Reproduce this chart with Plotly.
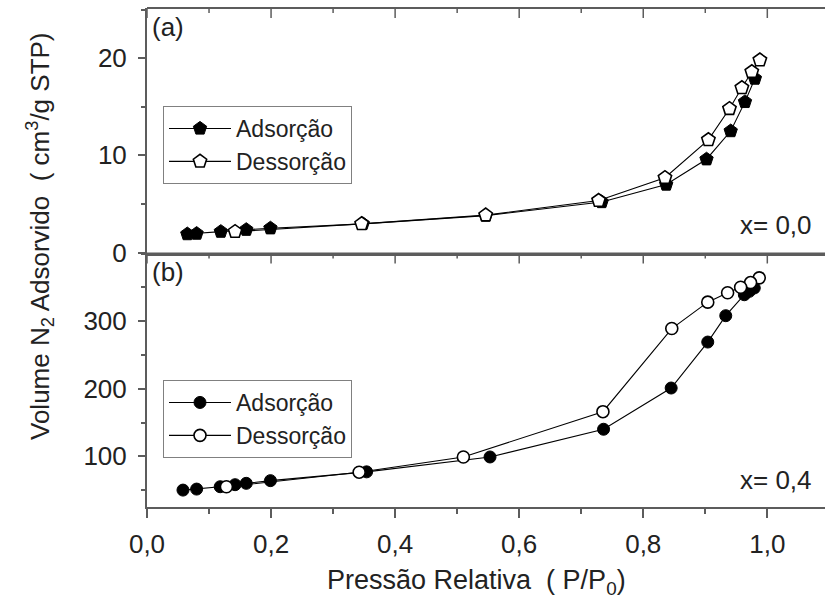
import plotly.graph_objects as go

# ---------------- data ----------------
# Panel (a): x = 0,0
ads_x_a = [0.065, 0.080, 0.119, 0.160, 0.199, 0.348, 0.546, 0.733, 0.837, 0.902, 0.941, 0.964, 0.980]
ads_y_a = [1.90, 1.95, 2.15, 2.35, 2.50, 2.95, 3.80, 5.20, 7.00, 9.60, 12.5, 15.5, 17.9]
des_x_a = [0.988, 0.975, 0.959, 0.939, 0.905, 0.835, 0.728, 0.546, 0.346, 0.142]
des_y_a = [19.8, 18.6, 16.95, 14.8, 11.6, 7.7, 5.35, 3.85, 2.95, 2.15]

# Panel (b): x = 0,4
ads_x_b = [0.058, 0.080, 0.118, 0.142, 0.160, 0.199, 0.354, 0.553, 0.736, 0.845, 0.904, 0.933, 0.963, 0.971, 0.979]
ads_y_b = [50, 51.5, 55, 58, 60, 64, 77, 99, 140, 201, 269, 308, 339, 344, 349]
des_x_b = [0.987, 0.973, 0.957, 0.936, 0.904, 0.846, 0.735, 0.510, 0.342, 0.128]
des_y_b = [364, 357, 350, 342, 328, 289, 166, 99, 76.5, 55]

series_names = ["Adsorção", "Dessorção"]
x_tickvals = [0.0, 0.2, 0.4, 0.6, 0.8, 1.0]
x_minor_tickvals = [0.1, 0.3, 0.5, 0.7, 0.9]
ya_tickvals = [0, 10, 20]
yb_tickvals = [100, 200, 300]
panel_labels = ["(a)", "(b)"]
composition_labels = ["x= 0,0", "x= 0,4"]

# ---------------- style ----------------
FONT = "Liberation Sans, Arial, sans-serif"
AX = "#5c5c5c"
W, H = 825, 607
L, R, T, B = 147, 0, 8, 100
plot_h = H - T - B
split = (H - B - 253.5) / plot_h

def py(pix):
    return (H - B - pix) / plot_h

def px(pix):
    return (pix - L) / (W - L - R)

fig = go.Figure()

def add_pair(xa, ya, xd, yd, symbol, size, xref, yref, legend):
    fig.add_trace(go.Scatter(
        x=xa, y=ya, mode="lines+markers", name=series_names[0],
        line=dict(color="black", width=1.1),
        marker=dict(symbol=symbol, size=size, color="black", line=dict(color="black", width=1)),
        xaxis=xref, yaxis=yref, legend=legend))
    fig.add_trace(go.Scatter(
        x=xd, y=yd, mode="lines+markers", name=series_names[1],
        line=dict(color="black", width=1.1),
        marker=dict(symbol=symbol, size=size, color="white", line=dict(color="black", width=1.6)),
        xaxis=xref, yaxis=yref, legend=legend))

add_pair(ads_x_a, ads_y_a, des_x_a, des_y_a, "pentagon", 14, "x2", "y2", "legend")
add_pair(ads_x_b, ads_y_b, des_x_b, des_y_b, "circle", 12, "x", "y", "legend2")

xrange = [0, 1.093]
tickfont = dict(family=FONT, size=26, color="#222")
common_line = dict(showline=True, linecolor=AX, linewidth=2, showgrid=False, zeroline=False)

fig.update_layout(
    width=W, height=H,
    margin=dict(l=L, r=R, t=T, b=B),
    paper_bgcolor="white", plot_bgcolor="rgba(0,0,0,0)",
    separators=",.",
    font=dict(family=FONT, size=24, color="#222"),
    xaxis=dict(anchor="y", range=xrange, domain=[0, 1], **common_line,
               ticks="outside", ticklen=9, tickwidth=1.5, tickcolor=AX,
               tickvals=x_tickvals, tickformat=".1f", tickfont=tickfont, ticklabelstandoff=4,
               minor=dict(ticks="outside", dtick=0.1, tick0=0, ticklen=5, tickwidth=1.5, tickcolor=AX)),
    xaxis2=dict(anchor="y2", range=xrange, domain=[0, 1], **common_line,
                ticks="", showticklabels=False),
    yaxis=dict(anchor="x", domain=[0, split], range=[25, 400], **common_line,
               ticks="outside", ticklen=7, tickwidth=1.5, tickcolor=AX,
               tickvals=yb_tickvals, tickfont=tickfont, ticklabelstandoff=6,
               minor=dict(ticks="outside", dtick=50, tick0=0, ticklen=4, tickwidth=1.5, tickcolor=AX)),
    yaxis2=dict(anchor="x2", domain=[split, 1], range=[-0.1, 25.16], **common_line,
                ticks="outside", ticklen=7, tickwidth=1.5, tickcolor=AX,
                tickvals=ya_tickvals, tickfont=tickfont, ticklabelstandoff=6,
                minor=dict(ticks="outside", dtick=5, tick0=0, ticklen=4, tickwidth=1.5, tickcolor=AX)),
    legend=dict(x=px(163), y=py(106), xanchor="left", yanchor="top",
                bordercolor="#808080", borderwidth=1, bgcolor="white",
                font=dict(family=FONT, size=23, color="#222"), itemwidth=62,
                tracegroupgap=0),
    legend2=dict(x=px(163), y=py(380), xanchor="left", yanchor="top",
                 bordercolor="#808080", borderwidth=1, bgcolor="white",
                 font=dict(family=FONT, size=23, color="#222"), itemwidth=62,
                 tracegroupgap=0),
    showlegend=True,
)

# frame line along the top of each panel, with inward-pointing ticks
shapes = []
for ytop in (1.0, split):
    shapes.append(dict(type="line", xref="paper", yref="paper", x0=0, x1=1, y0=ytop, y1=ytop,
                       line=dict(color=AX, width=2), layer="above"))
    for v in x_tickvals:
        shapes.append(dict(type="line", xref="x", yref="paper", x0=v, x1=v,
                           y0=ytop, y1=ytop - 10 / plot_h, line=dict(color=AX, width=1.5)))
    for v in x_minor_tickvals:
        shapes.append(dict(type="line", xref="x", yref="paper", x0=v, x1=v,
                           y0=ytop, y1=ytop - 5 / plot_h, line=dict(color=AX, width=1.5)))
fig.update_layout(shapes=shapes)

annos = []
annos.append(dict(text=panel_labels[0], x=px(150), y=py(27), xref="paper", yref="paper",
                  xanchor="left", yanchor="middle", showarrow=False, font=dict(size=26)))
annos.append(dict(text=panel_labels[1], x=px(150), y=py(272), xref="paper", yref="paper",
                  xanchor="left", yanchor="middle", showarrow=False, font=dict(size=26)))
annos.append(dict(text=composition_labels[0], x=px(814), y=py(225), xref="paper", yref="paper",
                  xanchor="right", yanchor="middle", showarrow=False, font=dict(size=26)))
annos.append(dict(text=composition_labels[1], x=px(814), y=py(480), xref="paper", yref="paper",
                  xanchor="right", yanchor="middle", showarrow=False, font=dict(size=26)))
annos.append(dict(text="Pressão Relativa\u00a0\u00a0(\u00a0P/P<sub>0</sub>)", x=px(476), y=py(582),
                  xref="paper", yref="paper", xanchor="center", yanchor="middle",
                  showarrow=False, font=dict(size=27)))
annos.append(dict(text="Volume N<sub>2</sub> Adsorvido\u00a0\u00a0(\u00a0cm<sup>3</sup>/g STP)",
                  x=px(40), y=py(236), xref="paper", yref="paper", textangle=-90,
                  xanchor="center", yanchor="middle", showarrow=False, font=dict(size=26)))
fig.update_layout(annotations=annos)

fig.write_html("out.html", config={"displayModeBar": False},
               post_script="document.body.style.margin='0';")
